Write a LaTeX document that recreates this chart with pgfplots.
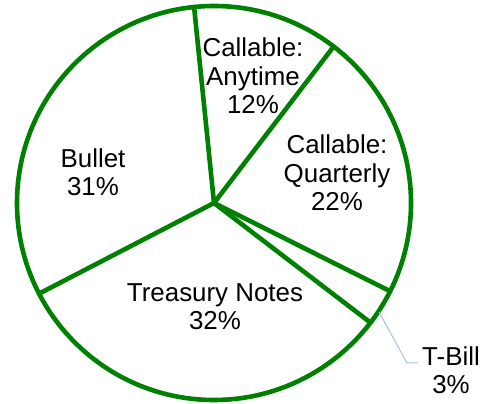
\documentclass[border=0pt]{standalone}
\usepackage{pgfplots}
\pgfplotsset{compat=1.18}
\usepackage{pgfplotstable}
\usepackage{fontspec}
\setmainfont{Liberation Sans}
\definecolor{pieGreen}{RGB}{0,128,0}
\definecolor{leaderBlue}{RGB}{160,195,232}

% shares in drawing order, clockwise from the top
\pgfplotstableread{
share
12
22
3
32
31
}\piedata

% boundary angles from the shares
\newcommand{\nextang}[3]{% row, previous angle, new macro
  \pgfplotstablegetelem{#1}{share}\of\piedata
  \pgfmathsetmacro{#3}{#2-3.6*\pgfplotsretval}%
}

\begin{document}
\begin{tikzpicture}
\pgfmathsetmacro{\angA}{95.8}
\nextang{0}{\angA}{\angB}
\nextang{1}{\angB}{\angC}
\nextang{2}{\angC}{\angD}
\nextang{3}{\angD}{\angE}
\tikzset{wedge/.style={pieGreen, line width=4.6bp, line cap=round},
  lbl/.style={align=center, font=\fontsize{26}{28.5}\selectfont, inner sep=0pt}}
\begin{axis}[
  width=493bp, height=404bp, scale only axis,
  xmin=0, xmax=493, ymin=0, ymax=404,
  hide axis, clip=false,
]
\path (axis cs:0,0) rectangle (axis cs:493,404);
\fill[white] (axis cs:214,201) circle[radius=197bp];
\draw[wedge] (axis cs:214,201) -- ++(\angA:197bp);
\draw[wedge] (axis cs:214,201) -- ++(\angB:197bp);
\draw[wedge] (axis cs:214,201) -- ++(\angC:197bp);
\draw[wedge] (axis cs:214,201) -- ++(\angD:197bp);
\draw[wedge] (axis cs:214,201) -- ++(\angE:197bp);
\draw[pieGreen, line width=4.6bp] (axis cs:214,201) circle[radius=197bp];
\draw[leaderBlue, line width=1bp] (axis cs:379,92) -- (axis cs:407,41) -- (axis cs:418,41);
\node[lbl] at (axis cs:253,328) {Callable:\\Anytime\\12\%};
\node[lbl] at (axis cs:337,231) {Callable:\\Quarterly\\22\%};
\node[lbl] at (axis cs:93,232) {Bullet\\31\%};
\node[lbl] at (axis cs:215,97) {Treasury Notes\\32\%};
\node[lbl] at (axis cs:451,34) {T-Bill\\3\%};
\end{axis}
\end{tikzpicture}
\end{document}
